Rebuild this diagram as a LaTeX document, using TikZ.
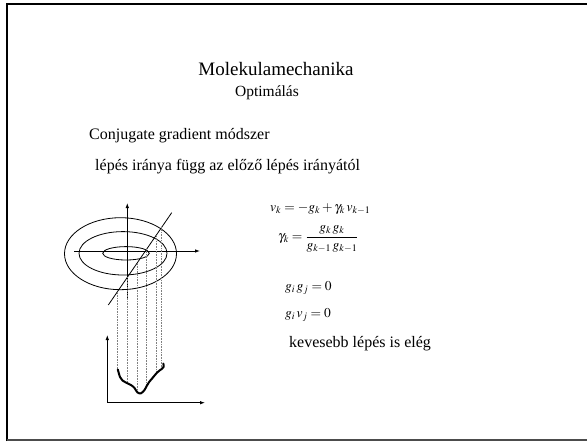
\documentclass[tikz,border=0pt]{standalone}
\usepackage{mathptmx}
\usepackage{fontspec}
\setmainfont{Liberation Serif}
\usepackage{amsmath}
\usetikzlibrary{arrows.meta}
\def\fs#1{\fontsize{#1}{#1}\selectfont}

\begin{document}
\begin{tikzpicture}[x=1pt,y=-1pt,
    txt/.style={inner sep=0pt,anchor=base west},
    ax/.style={line width=0.8pt,-{Latex[length=5pt,width=3.5pt]}},
    drop/.style={gray,line width=0.6pt,densely dotted}]
  \useasboundingbox (0,0) rectangle (587,442);
  % frame
  \draw[line width=2pt] (6.5,441) -- (6.5,3.5) -- (590,3.5);
  \draw[line width=1.2pt,black!70] (6.5,440) -- (590,440);
  % texts
  \node[inner sep=0pt,anchor=base] (title) at (276,75) {\fs{19}Molekulamechanika};
  \node[inner sep=0pt,anchor=base] (sub) at (267,96) {\fs{15.5}Optimálás};
  \node[txt] (cg) at (89,139) {\fs{16}Conjugate gradient módszer};
  \node[txt] (dir) at (95,170) {\fs{16}lépés iránya függ az előző lépés irányától};
  \node[txt] (eq1) at (270,211) {\fs{13.5}$v_k=-g_k+\gamma_k\,v_{k-1}$};
  \node[inner sep=0pt,anchor=west] (eq2) at (278,239) {\fs{13.5}$\gamma_k=\dfrac{g_k\,g_k}{g_{k-1}\,g_{k-1}}$};
  \node[txt] (eq3) at (285,290) {\fs{13.5}$g_i\,g_j=0$};
  \node[txt] (eq4) at (285,317) {\fs{13.5}$g_i\,v_j=0$};
  \node[txt] (few) at (289,347) {\fs{16}kevesebb lépés is elég};
  % contours
  \draw[line width=0.8pt] (120.5,253.7) ellipse (56 and 36);
  \draw[line width=0.8pt] (123,253.3) ellipse (44 and 21.7);
  \draw[line width=0.8pt] (126,253.3) ellipse (23.3 and 6.7);
  \draw[ax] (74.3,251) -- (200,251);
  \draw[ax] (127.3,299.3) -- (127.3,203);
  \draw[line width=0.8pt] (108.3,305) -- (171.7,212.7);
  % projections
  \coordinate (t1) at (117.5,291.6); \coordinate (b1) at (117.5,371.5);
  \coordinate (t2) at (127.5,277.0); \coordinate (b2) at (127.5,383.3);
  \coordinate (t3) at (137.5,262.5); \coordinate (b3) at (137.5,392.5);
  \coordinate (t4) at (146.7,249.1); \coordinate (b4) at (146.7,386);
  \coordinate (t5) at (156.7,234.5); \coordinate (b5) at (156.7,373);
  \coordinate (t6) at (161.7,227.2); \coordinate (b6) at (161.7,369);
  \foreach \i in {1,...,6} \draw[drop] (t\i) -- (b\i);
  % energy along the line
  \draw[ax] (107.3,402.7) -- (107.3,335);
  \draw[ax] (107.3,402.7) -- (205,402.7);
  \draw[line width=2pt,line cap=round] plot[smooth] coordinates {(117.8,369.5) (120,377) (122.5,380.5)
    (127.5,383.3) (131,385) (134.5,388) (137.5,392.5) (141,393.3) (144.5,390) (146.7,386)
    (149.5,381.5) (152.5,378) (156.7,373) (159.5,370.5) (161.7,369) (163.7,366.8) (163.3,363.5)};
\end{tikzpicture}
\end{document}
